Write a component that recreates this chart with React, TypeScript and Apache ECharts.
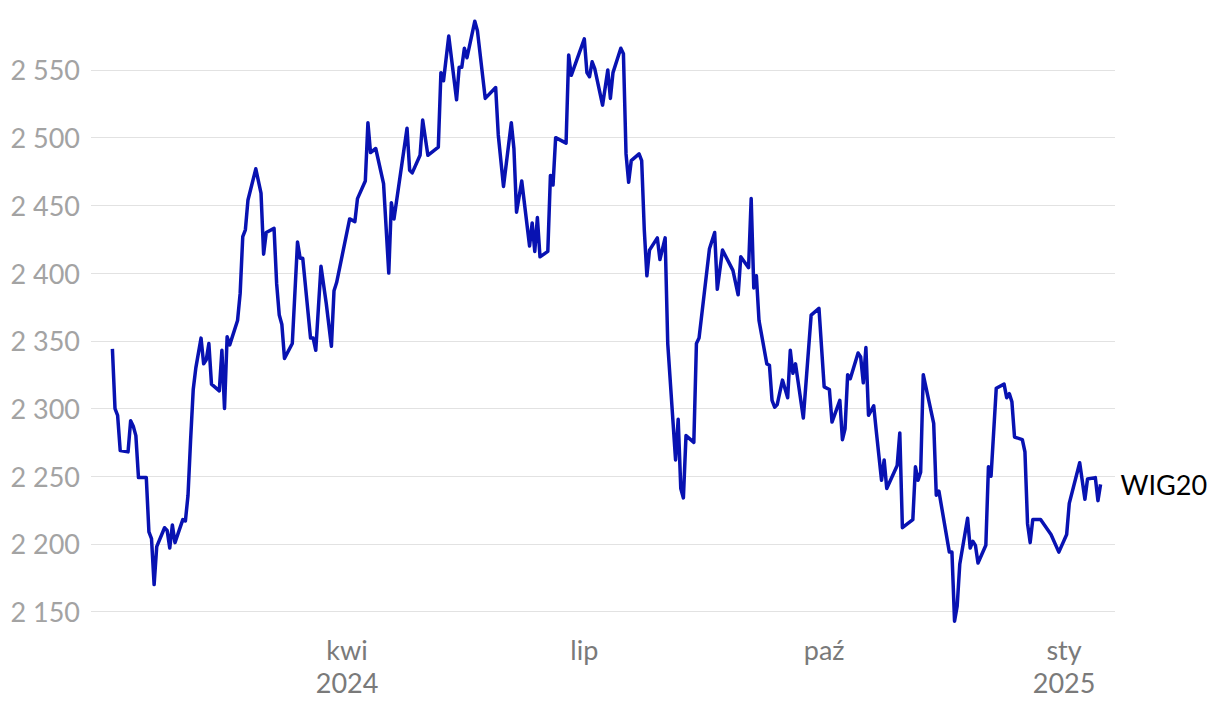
import React, { useEffect, useRef } from 'react';
import * as echarts from 'echarts';

const seriesName = 'WIG20';

const dates = [
  '2024-01-02','2024-01-03','2024-01-04','2024-01-05','2024-01-08','2024-01-09','2024-01-10','2024-01-11','2024-01-12','2024-01-15',
  '2024-01-16','2024-01-17','2024-01-18','2024-01-19','2024-01-22','2024-01-23','2024-01-24','2024-01-25','2024-01-26','2024-01-29',
  '2024-01-30','2024-01-31','2024-02-01','2024-02-02','2024-02-03','2024-02-05','2024-02-06','2024-02-07','2024-02-08','2024-02-09',
  '2024-02-12','2024-02-13','2024-02-14','2024-02-15','2024-02-16','2024-02-19','2024-02-20','2024-02-21','2024-02-22','2024-02-23',
  '2024-02-26','2024-02-28','2024-02-29','2024-03-01','2024-03-04','2024-03-05','2024-03-06','2024-03-07','2024-03-08','2024-03-11',
  '2024-03-13','2024-03-14','2024-03-15','2024-03-18','2024-03-19','2024-03-20','2024-03-22','2024-03-24','2024-03-26','2024-03-27',
  '2024-03-28','2024-04-02','2024-04-04','2024-04-05','2024-04-08','2024-04-09','2024-04-10','2024-04-12','2024-04-15','2024-04-17',
  '2024-04-18','2024-04-19','2024-04-24','2024-04-25','2024-04-26','2024-04-29','2024-04-30','2024-05-02','2024-05-06','2024-05-07',
  '2024-05-08','2024-05-10','2024-05-13','2024-05-14','2024-05-15','2024-05-16','2024-05-17','2024-05-20','2024-05-21','2024-05-24',
  '2024-05-28','2024-05-29','2024-05-31','2024-06-03','2024-06-04','2024-06-05','2024-06-07','2024-06-10','2024-06-11','2024-06-12',
  '2024-06-13','2024-06-14','2024-06-17','2024-06-18','2024-06-19','2024-06-20','2024-06-24','2024-06-25','2024-06-26','2024-07-01',
  '2024-07-02','2024-07-03','2024-07-04','2024-07-05','2024-07-08','2024-07-10','2024-07-11','2024-07-12','2024-07-15','2024-07-16',
  '2024-07-17','2024-07-18','2024-07-19','2024-07-22','2024-07-23','2024-07-24','2024-07-25','2024-07-26','2024-07-29','2024-07-30',
  '2024-08-01','2024-08-02','2024-08-05','2024-08-06','2024-08-07','2024-08-08','2024-08-09','2024-08-12','2024-08-13','2024-08-14',
  '2024-08-16','2024-08-18','2024-08-20','2024-08-21','2024-08-23','2024-08-27','2024-08-29','2024-08-30','2024-09-02','2024-09-03',
  '2024-09-04','2024-09-05','2024-09-06','2024-09-09','2024-09-10','2024-09-11','2024-09-12','2024-09-13','2024-09-15','2024-09-17',
  '2024-09-18','2024-09-19','2024-09-20','2024-09-23','2024-09-26','2024-09-29','2024-10-01','2024-10-03','2024-10-04','2024-10-07',
  '2024-10-08','2024-10-09','2024-10-10','2024-10-11','2024-10-14','2024-10-15','2024-10-16','2024-10-17','2024-10-18','2024-10-20',
  '2024-10-21','2024-10-23','2024-10-24','2024-10-25','2024-10-29','2024-10-30','2024-10-31','2024-11-04','2024-11-05','2024-11-06',
  '2024-11-07','2024-11-08','2024-11-12','2024-11-13','2024-11-14','2024-11-18','2024-11-19','2024-11-20','2024-11-21','2024-11-22',
  '2024-11-25','2024-11-26','2024-11-27','2024-11-28','2024-11-29','2024-12-02','2024-12-03','2024-12-04','2024-12-06','2024-12-09',
  '2024-12-10','2024-12-11','2024-12-12','2024-12-13','2024-12-16','2024-12-17','2024-12-18','2024-12-19','2024-12-20','2024-12-23',
  '2024-12-27','2024-12-30','2025-01-02','2025-01-03','2025-01-07','2025-01-09','2025-01-10','2025-01-13','2025-01-14','2025-01-15',
];

const values = [
  2344, 2300, 2295, 2269, 2268, 2291, 2287, 2280, 2249, 2249,
  2209, 2204, 2170, 2198, 2212, 2210, 2197, 2214, 2201, 2218,
  2217, 2236, 2277, 2314, 2330, 2352, 2333, 2336, 2348, 2318,
  2313, 2343, 2300, 2353, 2347, 2365, 2385, 2427, 2432, 2454,
  2477, 2459, 2414, 2430, 2433, 2392, 2369, 2362, 2337, 2348,
  2423, 2411, 2411, 2352, 2352, 2343, 2405, 2378, 2346, 2387,
  2393, 2440, 2438, 2455, 2468, 2511, 2489, 2492, 2466, 2400,
  2452, 2440, 2507, 2476, 2474, 2487, 2513, 2487, 2493, 2548,
  2542, 2575, 2528, 2552, 2552, 2566, 2559, 2586, 2579, 2529,
  2537, 2502, 2464, 2511, 2492, 2445, 2468, 2420, 2437, 2416,
  2441, 2412, 2416, 2472, 2465, 2500, 2496, 2561, 2546, 2573,
  2548, 2545, 2556, 2551, 2524, 2550, 2529, 2548, 2566, 2562,
  2488, 2467, 2483, 2488, 2483, 2432, 2398, 2417, 2426, 2410,
  2426, 2348, 2262, 2292, 2241, 2234, 2280, 2275, 2348, 2352,
  2385, 2418, 2430, 2388, 2417, 2402, 2384, 2412, 2404, 2455,
  2389, 2398, 2365, 2333, 2332, 2306, 2301, 2303, 2321, 2308,
  2343, 2326, 2333, 2293, 2369, 2374, 2316, 2314, 2290, 2306,
  2277, 2285, 2325, 2322, 2341, 2338, 2319, 2345, 2295, 2302,
  2283, 2247, 2262, 2241, 2258, 2282, 2212, 2218, 2257, 2247,
  2253, 2325, 2289, 2236, 2239, 2194, 2194, 2143, 2154, 2185,
  2219, 2197, 2202, 2199, 2186, 2199, 2257, 2250, 2315, 2318,
  2308, 2311, 2305, 2279, 2277, 2268, 2215, 2201, 2218, 2218,
  2207, 2194, 2207, 2230, 2260, 2233, 2248, 2249, 2232, 2244,
];

const xTickDates = ['2024-04-01', '2024-07-01', '2024-10-01', '2025-01-01'];
const xTickLabels = ['kwi\n2024', 'lip', 'paź', 'sty\n2025'];
const yTicks = [2150, 2200, 2250, 2300, 2350, 2400, 2450, 2500, 2550];

const toTs = (s: string) => {
  const [y, m, d] = s.split('-').map(Number);
  return new Date(y, m - 1, d).getTime();
};

export default function App() {
  const ref = useRef<HTMLDivElement>(null);
  useEffect(() => {
    document.body.style.margin = '0';
    const chart = echarts.init(ref.current as HTMLDivElement, null, { renderer: 'svg' });
    const data = dates.map((d, i) => [toTs(d), values[i]]);
    const tickTs = xTickDates.map(toTs);
    const xMin = new Date(2023, 11, 24, 19).getTime();
    const xMax = new Date(2025, 0, 20, 13).getTime();
    chart.setOption({
      animation: false,
      grid: { left: 91, right: 105, top: 9, bottom: 80 },
      xAxis: {
        type: 'value',
        min: xMin,
        max: xMax,
        axisLine: { show: false },
        axisTick: { show: false },
        splitLine: { show: false },
        axisLabel: {
          customValues: tickTs,
          formatter: (v: number) => {
            const i = tickTs.indexOf(v);
            return i >= 0 ? xTickLabels[i] : '';
          },
          color: '#7a7a7a',
          fontSize: 27,
          fontFamily: 'Lato',
          lineHeight: 33,
          margin: 1,
          hideOverlap: false,
        },
      },
      yAxis: {
        type: 'value',
        min: 2135,
        max: 2595,
        axisLine: { show: false },
        axisTick: { show: false },
        splitLine: { show: false },
        axisLabel: {
          customValues: yTicks,
          formatter: (v: number) => String(v).replace(/\B(?=(\d{3})+(?!\d))/g, ' '),
          color: '#a3a3a3',
          fontSize: 27,
          fontFamily: 'Lato',
          margin: 11,
        },
      },
      series: [
        {
          type: 'line',
          name: seriesName,
          data,
          showSymbol: false,
          symbol: 'none',
          lineStyle: { color: '#0812B2', width: 3.5, join: 'round' },
          z: 3,
          endLabel: {
            show: true,
            formatter: seriesName,
            distance: 20,
            color: '#000000',
            fontSize: 27,
            fontFamily: 'Lato',
          },
          markLine: {
            silent: true,
            symbol: 'none',
            z: 1,
            animation: false,
            label: { show: false },
            lineStyle: { color: '#e2e2e2', width: 1, type: 'solid' },
            data: yTicks.map((v) => ({ yAxis: v })),
          },
        },
      ],
    });
    return () => chart.dispose();
  }, []);
  return <div ref={ref} style={{ width: 1220, height: 712 }} />;
}
